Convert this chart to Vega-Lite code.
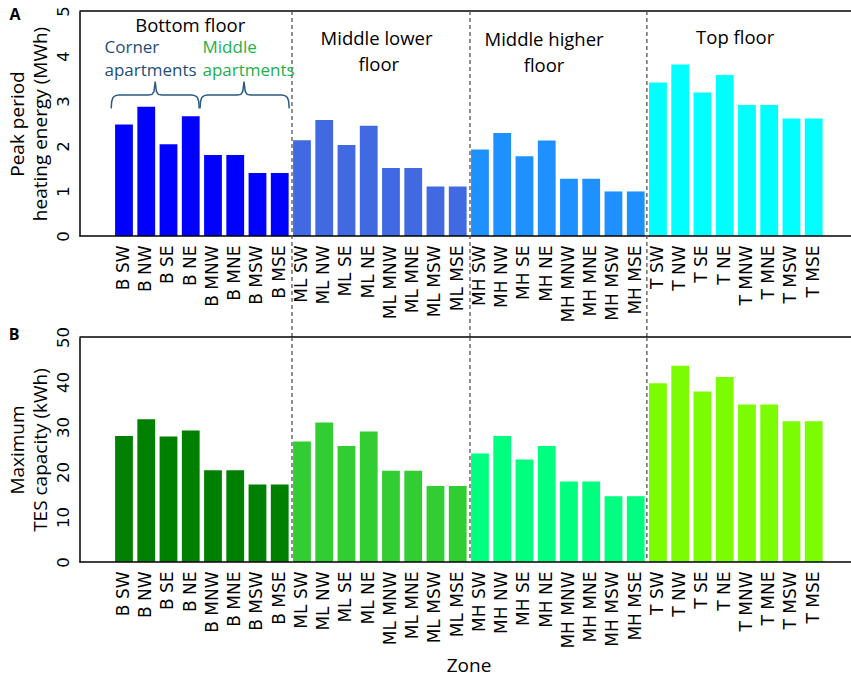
{
  "$schema": "https://vega.github.io/schema/vega-lite/v6.json",
  "padding": {"left": 8.5, "top": 5, "right": 0, "bottom": 4},
  "datasets": {
    "zones": [
      {"zone": "B SW", "floor": "B", "energy": 2.48, "tes": 28.0},
      {"zone": "B NW", "floor": "B", "energy": 2.87, "tes": 31.7},
      {"zone": "B SE", "floor": "B", "energy": 2.04, "tes": 27.9},
      {"zone": "B NE", "floor": "B", "energy": 2.66, "tes": 29.2},
      {"zone": "B MNW", "floor": "B", "energy": 1.80, "tes": 20.4},
      {"zone": "B MNE", "floor": "B", "energy": 1.80, "tes": 20.4},
      {"zone": "B MSW", "floor": "B", "energy": 1.40, "tes": 17.2},
      {"zone": "B MSE", "floor": "B", "energy": 1.40, "tes": 17.2},
      {"zone": "ML SW", "floor": "ML", "energy": 2.13, "tes": 26.8},
      {"zone": "ML NW", "floor": "ML", "energy": 2.58, "tes": 31.0},
      {"zone": "ML SE", "floor": "ML", "energy": 2.02, "tes": 25.8},
      {"zone": "ML NE", "floor": "ML", "energy": 2.45, "tes": 29.0},
      {"zone": "ML MNW", "floor": "ML", "energy": 1.51, "tes": 20.3},
      {"zone": "ML MNE", "floor": "ML", "energy": 1.51, "tes": 20.3},
      {"zone": "ML MSW", "floor": "ML", "energy": 1.10, "tes": 16.9},
      {"zone": "ML MSE", "floor": "ML", "energy": 1.10, "tes": 16.9},
      {"zone": "MH SW", "floor": "MH", "energy": 1.92, "tes": 24.1},
      {"zone": "MH NW", "floor": "MH", "energy": 2.29, "tes": 28.0},
      {"zone": "MH SE", "floor": "MH", "energy": 1.77, "tes": 22.8},
      {"zone": "MH NE", "floor": "MH", "energy": 2.12, "tes": 25.8},
      {"zone": "MH MNW", "floor": "MH", "energy": 1.27, "tes": 17.9},
      {"zone": "MH MNE", "floor": "MH", "energy": 1.27, "tes": 17.9},
      {"zone": "MH MSW", "floor": "MH", "energy": 0.99, "tes": 14.6},
      {"zone": "MH MSE", "floor": "MH", "energy": 0.99, "tes": 14.6},
      {"zone": "T SW", "floor": "T", "energy": 3.41, "tes": 39.7},
      {"zone": "T NW", "floor": "T", "energy": 3.81, "tes": 43.6},
      {"zone": "T SE", "floor": "T", "energy": 3.19, "tes": 37.9},
      {"zone": "T NE", "floor": "T", "energy": 3.58, "tes": 41.1},
      {"zone": "T MNW", "floor": "T", "energy": 2.91, "tes": 35.0},
      {"zone": "T MNE", "floor": "T", "energy": 2.91, "tes": 35.0},
      {"zone": "T MSW", "floor": "T", "energy": 2.61, "tes": 31.3},
      {"zone": "T MSE", "floor": "T", "energy": 2.61, "tes": 31.3}
    ],
    "dividers": [{"u": 7.55}, {"u": 15.55}, {"u": 23.5}],
    "frame": [{"u0": -2, "u1": 32.7}],
    "braces": [
      {"brace": "corner", "u": -0.575, "v": 2.835},
      {"brace": "corner", "u": -0.553, "v": 2.991},
      {"brace": "corner", "u": -0.494, "v": 3.080},
      {"brace": "corner", "u": -0.382, "v": 3.120},
      {"brace": "corner", "u": -0.247, "v": 3.131},
      {"brace": "corner", "u": 1.101, "v": 3.131},
      {"brace": "corner", "u": 1.258, "v": 3.147},
      {"brace": "corner", "u": 1.348, "v": 3.214},
      {"brace": "corner", "u": 1.402, "v": 3.430},
      {"brace": "corner", "u": 1.456, "v": 3.214},
      {"brace": "corner", "u": 1.546, "v": 3.147},
      {"brace": "corner", "u": 1.703, "v": 3.131},
      {"brace": "corner", "u": 3.052, "v": 3.131},
      {"brace": "corner", "u": 3.187, "v": 3.120},
      {"brace": "corner", "u": 3.299, "v": 3.080},
      {"brace": "corner", "u": 3.357, "v": 2.991},
      {"brace": "corner", "u": 3.380, "v": 2.835},
      {"brace": "middle", "u": 3.416, "v": 2.835},
      {"brace": "middle", "u": 3.438, "v": 2.991},
      {"brace": "middle", "u": 3.497, "v": 3.080},
      {"brace": "middle", "u": 3.609, "v": 3.120},
      {"brace": "middle", "u": 3.744, "v": 3.131},
      {"brace": "middle", "u": 5.101, "v": 3.131},
      {"brace": "middle", "u": 5.249, "v": 3.147},
      {"brace": "middle", "u": 5.339, "v": 3.214},
      {"brace": "middle", "u": 5.393, "v": 3.430},
      {"brace": "middle", "u": 5.447, "v": 3.214},
      {"brace": "middle", "u": 5.537, "v": 3.147},
      {"brace": "middle", "u": 5.685, "v": 3.131},
      {"brace": "middle", "u": 7.097, "v": 3.131},
      {"brace": "middle", "u": 7.231, "v": 3.120},
      {"brace": "middle", "u": 7.344, "v": 3.080},
      {"brace": "middle", "u": 7.402, "v": 2.991},
      {"brace": "middle", "u": 7.425, "v": 2.835}
    ],
    "notes": [
      {"panel": "A", "kind": "floor", "label": "Bottom floor", "u": 2.975, "v": 4.67},
      {"panel": "A", "kind": "floor", "label": "Middle lower", "u": 11.35, "v": 4.38},
      {"panel": "A", "kind": "floor", "label": "floor", "u": 11.45, "v": 3.80},
      {"panel": "A", "kind": "floor", "label": "Middle higher", "u": 18.88, "v": 4.36},
      {"panel": "A", "kind": "floor", "label": "floor", "u": 18.88, "v": 3.78},
      {"panel": "A", "kind": "floor", "label": "Top floor", "u": 27.47, "v": 4.41},
      {"panel": "A", "kind": "corner", "label": "Corner", "u": -0.876, "v": 4.17},
      {"panel": "A", "kind": "corner", "label": "apartments", "u": -0.876, "v": 3.67},
      {"panel": "A", "kind": "middle", "label": "Middle", "u": 3.528, "v": 4.17},
      {"panel": "A", "kind": "middle", "label": "apartments", "u": 3.528, "v": 3.67},
      {"panel": "A", "kind": "panel", "label": "A", "u": -4.9, "v": 4.91},
      {"panel": "B", "kind": "panel", "label": "B", "u": -4.94, "v": 50.5}
    ]
  },
  "vconcat": [
    {
      "width": 752,
      "height": 225,
      "layer": [
        {
          "data": {"name": "zones"},
          "mark": {"type": "bar"},
          "encoding": {
            "x": {
              "field": "zone", "type": "nominal", "sort": null,
              "scale": {"paddingInner": 0.2, "paddingOuter": 1, "align": 0.8},
              "axis": {"title": null}
            },
            "y": {
              "field": "energy", "type": "quantitative",
              "scale": {"domain": [0, 5], "nice": false},
              "axis": {"title": ["Peak period", "heating energy (MWh)"], "values": [0, 1, 2, 3, 4, 5]}
            },
            "color": {
              "field": "floor", "type": "nominal",
              "scale": {"domain": ["B", "ML", "MH", "T"], "range": ["#0000ff", "#4169e1", "#1e90ff", "#00ffff"]},
              "legend": null
            }
          }
        },
        {
          "layer": [
            {
              "data": {"name": "frame"},
              "mark": {"type": "rule", "color": "#000000", "strokeWidth": 1.5},
              "encoding": {
                "x": {"field": "u0", "type": "quantitative", "scale": {"domain": [-2, 31.798], "zero": false, "nice": false}, "axis": null},
                "x2": {"field": "u1"},
                "y": {"datum": 5}
              }
            },
            {
              "data": {"name": "frame"},
              "mark": {"type": "rule", "color": "#000000", "strokeWidth": 1.5},
              "encoding": {
                "x": {"field": "u0", "type": "quantitative", "scale": {"domain": [-2, 31.798], "zero": false, "nice": false}, "axis": null},
                "x2": {"field": "u1"},
                "y": {"datum": 0}
              }
            },
            {
              "data": {"name": "dividers"},
              "mark": {"type": "rule", "color": "#555555", "strokeWidth": 1.3, "strokeDash": [4, 3]},
              "encoding": {
                "x": {"field": "u", "type": "quantitative", "scale": {"domain": [-2, 31.798], "zero": false, "nice": false}, "axis": null},
                "y": {"datum": 5},
                "y2": {"datum": -2.25}
              }
            },
            {
              "data": {"name": "braces"},
              "mark": {"type": "line", "color": "#2b5c85", "strokeWidth": 1.5},
              "encoding": {
                "x": {"field": "u", "type": "quantitative", "scale": {"domain": [-2, 31.798], "zero": false, "nice": false}, "axis": null},
                "y": {"field": "v", "type": "quantitative"},
                "detail": {"field": "brace"}
              }
            },
            {
              "data": {"name": "notes"},
              "transform": [{"filter": "datum.panel == 'A' && datum.kind == 'floor'"}],
              "mark": {"type": "text", "font": "Open Sans", "fontSize": 18.5, "align": "center", "baseline": "middle", "color": "#000000"},
              "encoding": {
                "x": {"field": "u", "type": "quantitative", "scale": {"domain": [-2, 31.798], "zero": false, "nice": false}, "axis": null},
                "y": {"field": "v", "type": "quantitative"},
                "text": {"field": "label"}
              }
            },
            {
              "data": {"name": "notes"},
              "transform": [{"filter": "datum.panel == 'A' && datum.kind == 'corner'"}],
              "mark": {"type": "text", "font": "Open Sans", "fontSize": 17, "align": "left", "baseline": "middle", "color": "#1f4e79"},
              "encoding": {
                "x": {"field": "u", "type": "quantitative", "scale": {"domain": [-2, 31.798], "zero": false, "nice": false}, "axis": null},
                "y": {"field": "v", "type": "quantitative"},
                "text": {"field": "label"}
              }
            },
            {
              "data": {"name": "notes"},
              "transform": [{"filter": "datum.panel == 'A' && datum.kind == 'middle'"}],
              "mark": {"type": "text", "font": "Open Sans", "fontSize": 17, "align": "left", "baseline": "middle", "color": "#22b04a"},
              "encoding": {
                "x": {"field": "u", "type": "quantitative", "scale": {"domain": [-2, 31.798], "zero": false, "nice": false}, "axis": null},
                "y": {"field": "v", "type": "quantitative"},
                "text": {"field": "label"}
              }
            },
            {
              "data": {"name": "notes"},
              "transform": [{"filter": "datum.panel == 'A' && datum.kind == 'panel'"}],
              "mark": {"type": "text", "font": "Open Sans", "fontSize": 16, "fontWeight": "bold", "align": "center", "baseline": "middle", "color": "#000000"},
              "encoding": {
                "x": {"field": "u", "type": "quantitative", "scale": {"domain": [-2, 31.798], "zero": false, "nice": false}, "axis": null},
                "y": {"field": "v", "type": "quantitative"},
                "text": {"field": "label"}
              }
            }
          ]
        }
      ],
      "resolve": {"scale": {"x": "independent"}}
    },
    {
      "width": 752,
      "height": 225,
      "layer": [
        {
          "data": {"name": "zones"},
          "mark": {"type": "bar"},
          "encoding": {
            "x": {
              "field": "zone", "type": "nominal", "sort": null,
              "scale": {"paddingInner": 0.2, "paddingOuter": 1, "align": 0.8},
              "axis": {"title": "Zone", "titlePadding": 8, "titleX": 389}
            },
            "y": {
              "field": "tes", "type": "quantitative",
              "scale": {"domain": [0, 50], "nice": false},
              "axis": {"title": ["Maximum", "TES capacity (kWh)"], "values": [0, 10, 20, 30, 40, 50]}
            },
            "color": {
              "field": "floor", "type": "nominal",
              "scale": {"domain": ["B", "ML", "MH", "T"], "range": ["#008000", "#32cd32", "#00ff7f", "#7cfc00"]},
              "legend": null
            }
          }
        },
        {
          "layer": [
            {
              "data": {"name": "frame"},
              "mark": {"type": "rule", "color": "#000000", "strokeWidth": 1.5},
              "encoding": {
                "x": {"field": "u0", "type": "quantitative", "scale": {"domain": [-2, 31.798], "zero": false, "nice": false}, "axis": null},
                "x2": {"field": "u1"},
                "y": {"datum": 50}
              }
            },
            {
              "data": {"name": "frame"},
              "mark": {"type": "rule", "color": "#000000", "strokeWidth": 1.5},
              "encoding": {
                "x": {"field": "u0", "type": "quantitative", "scale": {"domain": [-2, 31.798], "zero": false, "nice": false}, "axis": null},
                "x2": {"field": "u1"},
                "y": {"datum": 0}
              }
            },
            {
              "data": {"name": "dividers"},
              "mark": {"type": "rule", "color": "#555555", "strokeWidth": 1.3, "strokeDash": [4, 3]},
              "encoding": {
                "x": {"field": "u", "type": "quantitative", "scale": {"domain": [-2, 31.798], "zero": false, "nice": false}, "axis": null},
                "y": {"datum": 50},
                "y2": {"datum": 0}
              }
            },
            {
              "data": {"name": "notes"},
              "transform": [{"filter": "datum.panel == 'B'"}],
              "mark": {"type": "text", "font": "Open Sans", "fontSize": 16, "fontWeight": "bold", "align": "center", "baseline": "middle", "color": "#000000"},
              "encoding": {
                "x": {"field": "u", "type": "quantitative", "scale": {"domain": [-2, 31.798], "zero": false, "nice": false}, "axis": null},
                "y": {"field": "v", "type": "quantitative"},
                "text": {"field": "label"}
              }
            }
          ]
        }
      ],
      "resolve": {"scale": {"x": "independent"}}
    }
  ],
  "spacing": 101,
  "bounds": "flush",
  "resolve": {"scale": {"x": "independent", "y": "independent", "color": "independent"}},
  "config": {
    "view": {"stroke": null},
    "axis": {
      "domainColor": "#000000", "domainWidth": 1.5, "ticks": false, "grid": false,
      "labelColor": "#000000", "titleColor": "#000000",
      "labelFont": "DejaVu Sans", "labelFontSize": 16.5,
      "titleFont": "Open Sans", "titleFontSize": 19, "titleFontWeight": "normal"
    },
    "axisX": {"domain": false, "labelAngle": 270, "labelAlign": "right", "labelBaseline": "middle", "labelPadding": 9, "labelFontSize": 17, "labelOverlap": false},
    "axisY": {"labelAngle": 270, "labelAlign": "center", "labelBaseline": "alphabetic", "labelPadding": 11.5, "titleLineHeight": 23, "titlePadding": 4.5}
  }
}
